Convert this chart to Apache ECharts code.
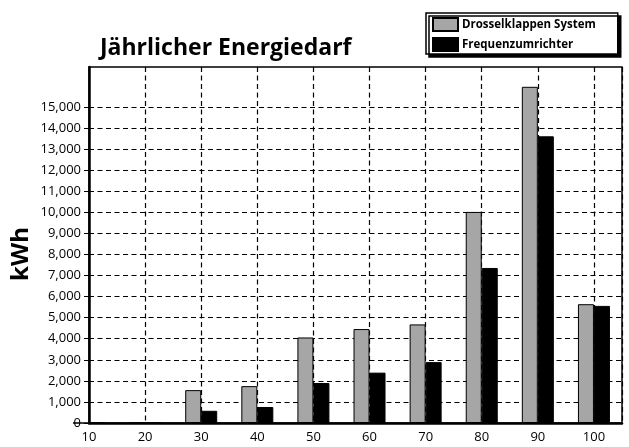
<!DOCTYPE html>
<html>
<head>
<meta charset="utf-8">
<script src="https://cdn.jsdelivr.net/npm/echarts@6/dist/echarts.min.js"></script>
<style>
  html, body { margin: 0; padding: 0; background: #fff; }
  #chart { width: 629px; height: 447px; }
</style>
</head>
<body>
<div id="chart"></div>
<script>
// Jährlicher Energiebedarf: throttle valve vs. frequency converter
const speeds = [10, 20, 30, 40, 50, 60, 70, 80, 90, 100];
const drosselklappen = [0, 0, 1560, 1750, 4060, 4460, 4680, 10020, 15960, 5640];
const frequenzumrichter = [0, 0, 580, 760, 1900, 2390, 2890, 7360, 13610, 5560];
const yTicks = [0, 1000, 2000, 3000, 4000, 5000, 6000, 7000, 8000, 9000, 10000, 11000, 12000, 13000, 14000, 15000];
const xTicks = [10, 20, 30, 40, 50, 60, 70, 80, 90, 100];
const unitLabel = 'kWh';

const FONT = '"Open Sans", "DejaVu Sans", sans-serif';
const dashed = { color: '#000', width: 1.2, type: [5, 3.5] };

const chart = echarts.init(document.getElementById('chart'), null, { renderer: 'canvas' });

chart.setOption({
  backgroundColor: '#fff',
  animation: false,
  title: {
    text: 'Jährlicher Energiedarf',
    left: 100,
    top: 37,
    padding: 0,
    textStyle: { fontFamily: FONT, fontWeight: 'bold', fontSize: 23, color: '#000' }
  },
  legend: {
    orient: 'vertical',
    left: 426,
    top: 13,
    padding: [4, 22, 2, 6],
    itemGap: 5,
    itemWidth: 25,
    itemHeight: 13,
    icon: 'rect',
    backgroundColor: '#fff',
    borderColor: '#000',
    borderWidth: 1.5,
    shadowColor: '#000',
    shadowBlur: 0,
    shadowOffsetX: 3,
    shadowOffsetY: 3,
    textStyle: { fontFamily: FONT, fontWeight: 'bold', fontSize: 11.5, color: '#000', padding: [0, 0, 0, -1] },
    data: ['Drosselklappen System', 'Frequenzumrichter']
  },
  // rotated unit label beside the value axis
  graphic: [{
    type: 'text',
    x: 21,
    y: 254,
    rotation: Math.PI / 2,
    style: {
      text: unitLabel,
      align: 'center',
      verticalAlign: 'middle',
      font: 'bold 24px "Open Sans", "DejaVu Sans", sans-serif',
      fill: '#000'
    }
  }],
  grid: {
    left: 89, right: 7, top: 67, bottom: 24,
    outerBoundsMode: 'none',
    containLabel: false,
    show: true, borderColor: '#000', borderWidth: 1.5
  },
  xAxis: {
    type: 'value',
    min: 10,
    max: 105,
    interval: 10,
    axisLine: { show: true, onZero: false, lineStyle: { color: '#000', width: 2.5 } },
    axisTick: { show: false },
    axisLabel: {
      customValues: xTicks,
      margin: 8,
      fontFamily: FONT, fontSize: 13, color: '#000'
    },
    splitLine: { show: true, showMinLine: false, lineStyle: dashed }
  },
  yAxis: {
    type: 'value',
    min: 0,
    max: 16900,
    interval: 1000,
    axisLine: { show: true, lineStyle: { color: '#000', width: 2.5 } },
    axisTick: { show: true, customValues: yTicks, length: 5, lineStyle: { color: '#000', width: 1 } },
    axisLabel: {
      customValues: yTicks,
      margin: 8,
      fontFamily: FONT, fontSize: 13, color: '#000',
      formatter: v => v.toLocaleString('en-US')
    },
    splitLine: { show: true, showMinLine: false, lineStyle: dashed }
  },
  series: [
    {
      name: 'Drosselklappen System',
      type: 'bar',
      clip: true,
      barWidth: 16,
      barGap: '0%',
      itemStyle: { color: '#a6a6a6', borderColor: '#000', borderWidth: 1 },
      data: speeds.map((s, i) => [s, drosselklappen[i]])
    },
    {
      name: 'Frequenzumrichter',
      type: 'bar',
      clip: true,
      barWidth: 16,
      barGap: '0%',
      itemStyle: { color: '#000', borderColor: '#000', borderWidth: 1 },
      data: speeds.map((s, i) => [s, frequenzumrichter[i]])
    }
  ]
});
</script>
</body>
</html>
